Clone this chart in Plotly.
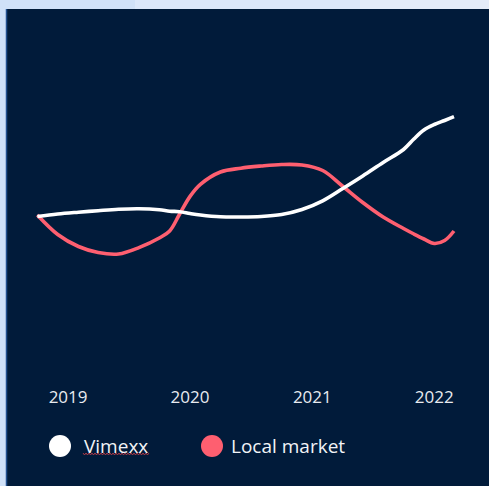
import plotly.graph_objects as go

# ---- data ----
dates = ["2018-10-01", "2018-12-01", "2019-02-01", "2019-04-01", "2019-06-01",
         "2019-08-01", "2019-10-01", "2019-11-01", "2019-12-01", "2020-01-01",
         "2020-02-01", "2020-04-01", "2020-06-01", "2020-08-01", "2020-10-01",
         "2020-12-01", "2021-02-01", "2021-04-01", "2021-06-01", "2021-08-01",
         "2021-10-01", "2021-11-01", "2021-12-01", "2022-01-01", "2022-02-01",
         "2022-03-01"]
vimexx = [99.75, 101.0, 101.9, 102.65, 103.35,
          103.6, 103.1, 102.4, 102.15, 101.25,
          100.5, 99.6, 99.5, 99.75, 100.75,
          103.25, 107.6, 113.6, 120.0, 126.75,
          133.25, 138.5, 143.0, 145.75, 147.75,
          149.65]
local_market = [100.5, 90.75, 84.75, 81.75, 81.0,
                84.2, 89.0, 92.5, 101.0, 109.8,
                115.8, 122.0, 123.9, 125.0, 125.75,
                125.5, 122.75, 115.0, 106.75, 99.5,
                93.75, 91.0, 88.5, 86.25, 87.75,
                92.5]
tick_dates = ["2019-01-01", "2020-01-01", "2021-01-01", "2022-01-01"]
tick_labels = ["2019", "2020", "2021", "2022"]
series_names = ["Vimexx", "Local market"]

NAVY = "#011b3a"
RED = "#fe5f70"
WHITE = "#ffffff"
FONT = "Open Sans"

W, H = 489, 486
L, R, T, B = 30, 29, 100, 104
PW, PH = W - L - R, H - T - B


def px(x):
    return (x - L) / PW


def py(y):
    return (H - B - y) / PH


fig = go.Figure()
fig.add_trace(go.Scatter(x=dates, y=local_market, mode="lines", name=series_names[1],
                         line=dict(color=RED, width=3.6, shape="spline", smoothing=1.0),
                         showlegend=False))
fig.add_trace(go.Scatter(x=dates, y=vimexx, mode="lines", name=series_names[0],
                         line=dict(color=WHITE, width=3.6, shape="spline", smoothing=1.0),
                         showlegend=False))

shapes = [
    dict(type="rect", xref="paper", yref="paper", x0=px(135), x1=px(360), y0=py(9), y1=py(0),
         fillcolor="#dbe7fa", line=dict(width=0), layer="below"),
    dict(type="rect", xref="paper", yref="paper", x0=px(360), x1=px(489), y0=py(9), y1=py(0),
         fillcolor="#e4ecf9", line=dict(width=0), layer="below"),
    dict(type="rect", xref="paper", yref="paper", x0=px(6), x1=px(489), y0=py(486), y1=py(9),
         fillcolor=NAVY, line=dict(width=0), layer="below"),
    dict(type="line", xref="paper", yref="paper", x0=px(6.5), x1=px(6.5), y0=py(486), y1=py(9),
         line=dict(color="#23508f", width=1.5), layer="below"),
    dict(type="circle", xref="paper", yref="paper", x0=px(49), x1=px(71), y0=py(457), y1=py(435),
         fillcolor=WHITE, line=dict(width=0)),
    dict(type="circle", xref="paper", yref="paper", x0=px(201), x1=px(223), y0=py(457), y1=py(435),
         fillcolor=RED, line=dict(width=0)),
]
# spellcheck squiggle under "Vimexx"
zig = []
xx = 83.0
k = 0
while xx <= 150:
    yy = 453 if k % 2 == 0 else 455
    zig.append(f"{px(xx)},{py(yy)}")
    xx += 1.5
    k += 1
shapes.append(dict(type="path", xref="paper", yref="paper", path="M" + " L".join(zig),
                   line=dict(color="#d0404a", width=0.8)))

annotations = [
    dict(text=series_names[0], xref="paper", yref="paper", x=px(82), y=py(446),
         xanchor="left", yanchor="middle", showarrow=False,
         font=dict(family=FONT, size=19, color="#f2f4f7")),
    dict(text=series_names[1], xref="paper", yref="paper", x=px(229), y=py(446),
         xanchor="left", yanchor="middle", showarrow=False,
         font=dict(family=FONT, size=19, color="#f2f4f7")),
]

fig.update_layout(
    width=W, height=H,
    margin=dict(l=L, r=R, t=T, b=B, pad=0),
    paper_bgcolor="#d0e1f8",
    plot_bgcolor="rgba(0,0,0,0)",
    shapes=shapes,
    annotations=annotations,
    showlegend=False,
    xaxis=dict(type="date", range=["2018-09-09", "2022-03-19"],
               tickvals=tick_dates, ticktext=tick_labels,
               showgrid=False, zeroline=False, showline=False, ticks="",
               ticklabelstandoff=3,
               tickfont=dict(family=FONT, size=17, color="#e8ebf0")),
    yaxis=dict(range=[17, 158], visible=False, showgrid=False, zeroline=False),
)

fig.write_html("out.html")
